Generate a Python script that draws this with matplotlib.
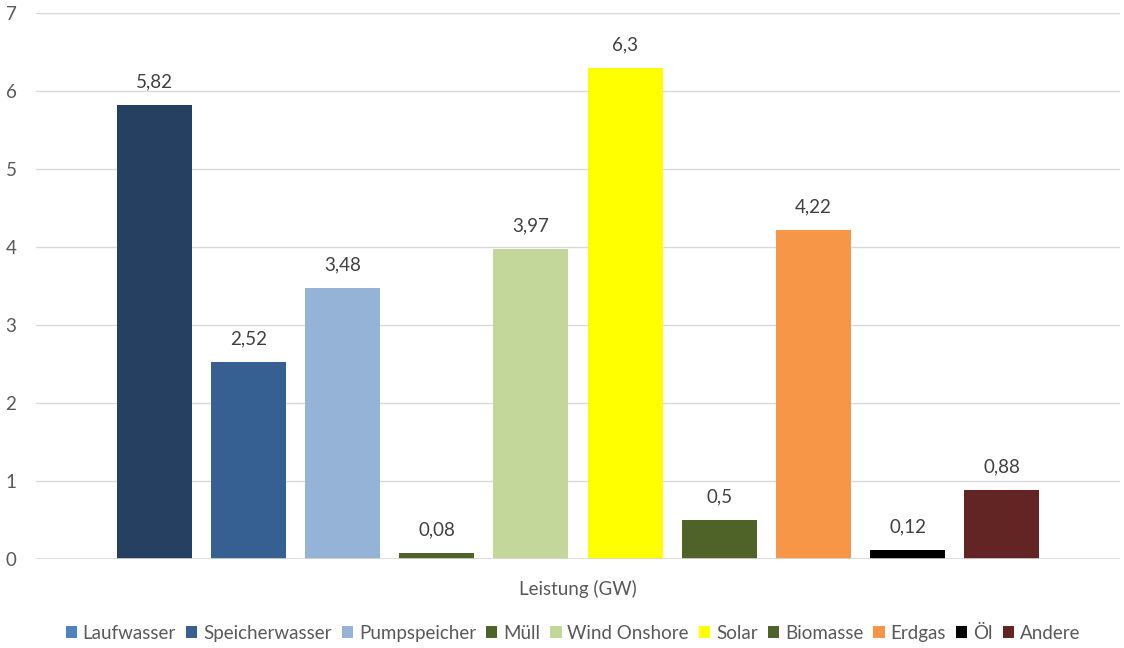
import matplotlib
matplotlib.use("Agg")
import matplotlib.pyplot as plt
from matplotlib.patches import Patch

categories = ["Laufwasser", "Speicherwasser", "Pumpspeicher", "Müll", "Wind Onshore",
              "Solar", "Biomasse", "Erdgas", "Öl", "Andere"]
values = [5.82, 2.52, 3.48, 0.08, 3.97, 6.3, 0.5, 4.22, 0.12, 0.88]
value_labels = ["5,82", "2,52", "3,48", "0,08", "3,97", "6,3", "0,5", "4,22", "0,12", "0,88"]
bar_colors = ["#254061", "#376092", "#95B3D7", "#4F6228", "#C4D79B",
              "#FFFF00", "#4F6228", "#F79646", "#000000", "#632523"]
legend_colors = ["#4F81BD", "#376092", "#95B3D7", "#4F6228", "#C4D79B",
                 "#FFFF00", "#4F6228", "#F79646", "#000000", "#632523"]
group_label = "Leistung (GW)"
yticks = [0, 1, 2, 3, 4, 5, 6, 7]

plt.rcParams["font.family"] = ["Lato", "DejaVu Sans"]
text_color = "#595959"
grid_color = "#D9D9D9"
fs = 13.5

W, H = 1124, 648
fig = plt.figure(figsize=(W / 100, H / 100), dpi=100)
ax = fig.add_axes([36 / W, (H - 559) / H, (1120 - 36) / W, (559 - 13) / H])

x = list(range(len(values)))
ax.bar(x, values, width=0.796, color=bar_colors, zorder=3)

for xi, v, lab in zip(x, values, value_labels):
    ax.annotate(lab, (xi, v), xytext=(0, 10.5), textcoords="offset points",
                ha="center", va="bottom", fontsize=fs, color="#404040")

ax.set_ylim(0, 7)
ax.set_xlim(4.5 - 5.754, 4.5 + 5.754)
ax.set_yticks(yticks)
ax.set_yticklabels([str(t) for t in yticks])
ax.set_xticks([])
ax.tick_params(axis="y", length=0, pad=18, labelsize=fs, labelcolor=text_color)
for lbl in ax.get_yticklabels():
    lbl.set_horizontalalignment("center")
ax.grid(axis="y", color=grid_color, linewidth=1, zorder=0)
for s in ax.spines.values():
    s.set_visible(False)
ax.axhline(0, color=grid_color, linewidth=1.2, zorder=4)

fig.text(578 / W, 1 - 589 / H, group_label, ha="center", va="center",
         fontsize=fs, color=text_color)

handles = [Patch(facecolor=c, edgecolor="none") for c in legend_colors]
fig.legend(handles, categories, loc="center", bbox_to_anchor=(573 / W, 1 - 633 / H),
           ncol=len(categories), frameon=False, fontsize=fs, labelcolor=text_color,
           handlelength=0.6, handleheight=0.6, handletextpad=0.3, columnspacing=0.55,
           borderaxespad=0)

fig.savefig("out.png", dpi=100, facecolor="white")
